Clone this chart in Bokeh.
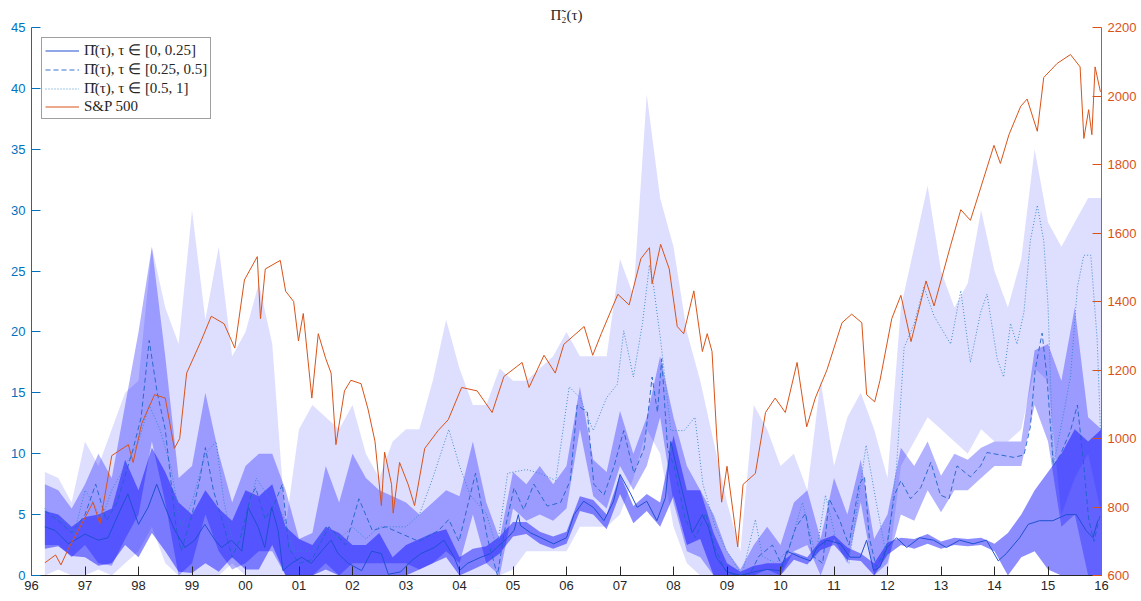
from bokeh.plotting import figure
from bokeh.models import Range1d, LinearAxis, FixedTicker, Legend, LegendItem
from bokeh.embed import file_html
from bokeh.resources import INLINE

# ---------------- data ----------------
year_ticks = list(range(1996, 2017))
year_labels = ["96", "97", "98", "99", "00", "01", "02", "03", "04", "05", "06",
               "07", "08", "09", "10", "11", "12", "13", "14", "15", "16"]
left_ticks = [0, 5, 10, 15, 20, 25, 30, 35, 40, 45]
right_ticks = [600, 800, 1000, 1200, 1400, 1600, 1800, 2000, 2200]

# quarterly grid for the confidence bands
band_t = [1996.25 + 0.25 * i for i in range(80)]

dark_lo = [2.2, 2.4, 1.6, 1.5, 0.8, 1.0, 2.5, 1.5, 3.5, 2.0, 0.3, 0.2, 1.0, 0.3, 1.5, 0.5,
           0.5, 2.5, 0.0, 0.0, 0.0, 0.5, 0.0, 0.0, 0.0, 0.0, 0.0, 0.0, 0.5, 1.0, 1.5, 0.0,
           0.5, 1.0, 1.8, 3.2, 3.4, 2.6, 2.2, 2.6, 5.3, 5.0, 3.8, 6.7, 4.3, 5.3, 4.0, 6.5,
           2.5, 3.0, 0.0, 0.0, 0.0, 0.0, 0.0, 0.0, 1.3, 0.9, 2.1, 2.5, 1.3, 1.2, 0.0, 1.7,
           2.5, 2.2, 2.6, 2.2, 2.5, 2.4, 2.5, 2.0, 0.0, 1.5, 2.0, 0.5, 0.0, 0.0, 0.0, 0.0]
dark_hi = [5.3, 5.0, 4.0, 4.8, 5.0, 5.5, 9.5, 7.0, 10.5, 8.5, 6.0, 5.0, 7.0, 5.5, 4.5, 7.0,
           6.5, 7.5, 4.0, 3.0, 2.5, 4.0, 3.5, 2.5, 2.5, 3.5, 1.5, 2.5, 3.0, 3.5, 3.8, 1.5,
           2.2, 2.4, 3.2, 4.4, 4.4, 3.6, 3.2, 3.6, 6.5, 6.2, 5.0, 8.3, 5.7, 6.7, 6.0, 11.5,
           7.0, 7.0, 3.5, 1.0, 0.3, 0.8, 1.0, 1.0, 1.9, 1.5, 2.9, 3.3, 2.3, 1.8, 1.0, 2.7,
           3.1, 3.0, 3.4, 2.8, 3.1, 3.0, 3.1, 2.6, 3.5, 5.0, 7.0, 8.5, 10.0, 12.0, 11.0, 12.0]

mid_lo = [2.5, 2.5, 1.5, 2.5, 1.0, 0.8, 3.0, 5.0, 11.0, 6.0, 0.0, 1.0, 5.0, 2.0, 0.5, 1.0,
          2.0, 2.0, 0.0, 0.0, 0.0, 1.0, 0.0, 1.0, 1.0, 1.0, 1.0, 1.0, 0.5, 1.0, 2.0, 1.0,
          5.0, 1.0, 0.0, 5.5, 4.5, 5.0, 4.5, 5.5, 12.0, 6.5, 5.5, 9.0, 7.0, 9.0, 13.0, 6.0,
          2.0, 1.5, 0.0, 0.0, 0.0, 0.0, 0.5, 0.0, 2.0, 2.5, 0.0, 3.0, 1.0, 6.0, 0.0, 1.0,
          5.0, 4.5, 7.0, 5.2, 7.0, 7.0, 8.0, 9.0, 9.0, 9.0, 14.0, 11.0, 4.0, 5.0, 0.0, 0.0]
mid_hi = [7.5, 7.0, 5.5, 7.5, 10.0, 8.0, 14.0, 20.0, 27.0, 18.0, 8.0, 9.0, 15.0, 10.0, 6.0, 9.0,
          10.0, 10.0, 7.0, 3.0, 3.5, 9.0, 6.0, 10.0, 8.0, 7.0, 6.5, 6.0, 5.0, 6.0, 7.0, 6.5,
          11.0, 6.0, 3.0, 8.5, 7.5, 9.0, 7.5, 9.0, 15.5, 9.5, 8.5, 13.5, 10.0, 13.0, 18.0, 13.0,
          9.0, 7.0, 5.0, 2.0, 0.5, 2.5, 4.0, 2.5, 6.0, 7.0, 3.0, 8.0, 5.0, 9.5, 3.0, 5.0,
          10.5, 9.0, 11.0, 8.2, 10.0, 9.5, 10.5, 11.0, 11.0, 11.0, 18.5, 19.0, 16.0, 22.0, 13.0, 12.0]

light_lo = [0.0, 0.5, 0.0, 0.0, 0.5, 0.0, 1.0, 2.0, 4.0, 1.0, 0.0, 0.0, 0.0, 0.0, 1.0, 0.0,
            0.0, 0.0, 0.0, 0.0, 0.0, 0.0, 0.0, 0.0, 0.0, 0.0, 0.0, 0.0, 0.0, 0.0, 0.0, 0.0,
            0.0, 0.0, 0.0, 0.5, 2.0, 2.0, 2.0, 2.0, 4.0, 4.0, 4.0, 5.0, 8.0, 12.0, 10.0, 4.0,
            1.0, 0.0, 0.0, 0.0, 0.0, 0.0, 0.0, 0.0, 0.0, 0.0, 0.0, 0.0, 0.0, 0.0, 0.0, 0.0,
            9.0, 11.0, 13.0, 12.0, 11.0, 10.0, 12.0, 11.0, 11.0, 12.0, 17.0, 16.0, 5.0, 8.0, 10.0, 5.0]
light_hi = [8.5, 8.0, 6.0, 11.0, 9.0, 12.0, 15.0, 16.0, 27.0, 22.0, 19.0, 30.0, 21.0, 27.0, 18.0, 20.0,
            24.0, 19.0, 4.0, 12.0, 14.0, 13.0, 12.0, 14.0, 10.0, 8.0, 11.0, 12.0, 12.0, 16.0, 21.0, 17.0,
            14.0, 14.0, 17.0, 16.0, 16.0, 17.0, 18.0, 20.0, 18.0, 18.0, 18.0, 26.0, 23.0, 39.5, 31.0, 27.0,
            20.0, 16.0, 11.0, 6.0, 2.0, 14.0, 12.0, 9.0, 10.0, 7.0, 16.0, 9.0, 13.0, 15.0, 12.0, 8.0,
            22.0, 27.0, 32.0, 25.0, 22.0, 24.0, 30.0, 25.0, 22.0, 26.0, 35.0, 29.0, 27.0, 29.0, 31.0, 31.0]

# Pi-hat, tau in [0, 0.25]  (solid)
s1_t = [1996.25, 1996.44, 1996.69, 1997.0, 1997.25, 1997.43, 1997.62, 1997.8, 1998.0, 1998.18,
        1998.34, 1998.5, 1998.68, 1998.87, 1999.05, 1999.24, 1999.43, 1999.55, 1999.74, 1999.93,
        2000.05, 2000.24, 2000.36, 2000.49, 2000.61, 2000.7, 2000.86, 2001.05, 2001.23, 2001.42,
        2001.6, 2001.73, 2001.92, 2002.17, 2002.36, 2002.54, 2002.67, 2002.9, 2003.1, 2003.28,
        2003.53, 2003.71, 2003.9, 2004.0, 2004.15, 2004.4, 2004.58, 2004.77, 2004.9, 2005.02,
        2005.1, 2005.14, 2005.33, 2005.52, 2005.76, 2006.0, 2006.14, 2006.32, 2006.5, 2006.7,
        2006.88, 2007.0, 2007.2, 2007.32, 2007.5, 2007.69, 2007.85, 2007.95, 2008.05, 2008.2,
        2008.35, 2008.54, 2008.65, 2008.8, 2009.0, 2009.25, 2009.5, 2009.75, 2010.0, 2010.12,
        2010.37, 2010.56, 2010.68, 2010.87, 2011.12, 2011.3, 2011.49, 2011.61, 2011.74, 2011.86,
        2011.99, 2012.17, 2012.36, 2012.6, 2012.86, 2013.1, 2013.35, 2013.6, 2013.85, 2014.07,
        2014.22, 2014.47, 2014.63, 2014.84, 2015.09, 2015.34, 2015.53, 2015.71, 2015.84, 2015.93]
s1_v = [4.0, 3.7, 2.6, 3.4, 2.9, 3.1, 5.0, 6.7, 4.2, 5.6,
        7.5, 5.6, 3.7, 2.3, 2.9, 4.2, 2.9, 2.3, 2.9, 2.0,
        5.6, 3.95, 2.3, 5.6, 3.7, 0.4, 1.0, 1.5, 1.0, 2.0,
        2.9, 1.8, 1.0, 0.4, 2.0, 1.8, 0.1, 0.3, 1.2, 1.8,
        2.3, 2.9, 1.5, 0.4, 1.0, 1.5, 1.8, 2.6, 3.1, 3.7,
        5.0, 4.1, 3.5, 3.1, 2.6, 3.1, 5.0, 6.1, 5.6, 4.5,
        6.1, 8.3, 6.7, 5.6, 6.1, 4.5, 6.4, 11.0, 9.0, 6.3,
        3.5, 5.0, 4.0, 1.5, 0.3, 0.0, 0.3, 0.5, 0.4, 2.0,
        1.5, 1.2, 2.3, 2.9, 2.6, 1.5, 1.5, 2.9, 0.4, 0.7,
        2.3, 3.1, 2.3, 3.1, 2.9, 2.3, 2.9, 2.6, 2.9, 1.2,
        1.8, 3.1, 4.2, 4.5, 4.5, 5.0, 5.0, 3.7, 3.1, 4.5]

# Pi-hat, tau in [0.25, 0.5]  (dashed)
s2_t = [1996.25, 1996.5, 1996.75, 1997.0, 1997.2, 1997.4, 1997.6, 1997.9, 1998.05, 1998.2,
        1998.35, 1998.5, 1998.6, 1998.7, 1998.8, 1999.0, 1999.15, 1999.25, 1999.4, 1999.6,
        1999.75, 1999.9, 2000.1, 2000.19, 2000.37, 2000.55, 2000.69, 2000.81, 2001.0, 2001.24,
        2001.56, 2001.87, 2002.12, 2002.37, 2002.62, 2002.93, 2003.24, 2003.61, 2003.8, 2003.99,
        2004.3, 2004.52, 2004.71, 2004.83, 2005.02, 2005.2, 2005.39, 2005.64, 2005.89, 2006.07,
        2006.2, 2006.39, 2006.51, 2006.7, 2006.89, 2007.07, 2007.26, 2007.45, 2007.6, 2007.7,
        2007.78, 2007.89, 2008.01, 2008.22, 2008.41, 2008.6, 2008.78, 2008.97, 2009.16, 2009.41,
        2009.6, 2009.85, 2010.04, 2010.29, 2010.47, 2010.6, 2010.79, 2010.91, 2011.1, 2011.28,
        2011.47, 2011.57, 2011.66, 2011.79, 2011.98, 2012.13, 2012.25, 2012.43, 2012.62, 2012.81,
        2012.99, 2013.15, 2013.3, 2013.55, 2013.74, 2013.86, 2014.11, 2014.36, 2014.55, 2014.67,
        2014.76, 2014.89, 2014.98, 2015.1, 2015.23, 2015.42, 2015.55, 2015.67, 2015.76, 2015.86,
        2015.98]
s2_v = [5.3, 4.5, 3.5, 5.0, 7.5, 4.5, 6.0, 10.4, 13.0, 19.3,
        15.0, 12.0, 8.0, 4.0, 2.0, 5.0, 8.0, 10.5, 7.0, 4.0,
        1.5, 3.0, 6.5, 7.2, 4.6, 6.0, 7.5, 2.2, 1.0, 1.3,
        4.0, 2.5, 6.3, 3.7, 4.0, 3.4, 2.8, 3.7, 4.6, 2.8,
        8.4, 3.1, 0.0, 3.4, 7.2, 5.4, 7.5, 5.7, 6.0, 7.8,
        14.0, 13.4, 7.5, 6.6, 9.0, 11.9, 8.4, 10.4, 16.3, 13.4,
        17.8, 10.4, 9.0, 4.6, 3.1, 5.1, 2.2, 0.4, 0.0, 0.0,
        1.6, 2.5, 0.7, 4.0, 5.1, 1.6, 1.0, 6.3, 4.6, 2.5,
        7.5, 8.1, 3.1, 0.7, 2.2, 6.6, 7.8, 6.3, 7.2, 9.3,
        6.6, 6.3, 9.0, 8.1, 9.0, 10.1, 9.9, 9.7, 9.9, 12.2,
        16.9, 19.9, 16.3, 9.0, 9.9, 11.9, 14.0, 9.0, 4.6, 2.8,
        5.1]

# Pi-hat, tau in [0.5, 1]  (dotted)
s3_t = [1996.25, 1996.4, 1996.6, 1996.8, 1997.0, 1997.15, 1997.3, 1997.5, 1997.75, 1998.0,
        1998.2, 1998.4, 1998.6, 1998.8, 1999.0, 1999.25, 1999.45, 1999.6, 1999.8, 2000.0,
        2000.2, 2000.5, 2000.7, 2000.9, 2001.25, 2001.5, 2001.75, 2002.0, 2002.25, 2002.5,
        2002.75, 2003.0, 2003.25, 2003.5, 2003.8, 2004.0, 2004.2, 2004.5, 2004.7, 2004.9,
        2005.25, 2005.5, 2005.8, 2006.05, 2006.25, 2006.5, 2006.75, 2006.95, 2007.07, 2007.25,
        2007.42, 2007.55, 2007.62, 2007.76, 2007.95, 2008.2, 2008.4, 2008.55, 2008.78, 2008.97,
        2009.28, 2009.53, 2009.66, 2009.91, 2010.16, 2010.41, 2010.66, 2010.84, 2011.03, 2011.28,
        2011.6, 2011.79, 2011.98, 2012.17, 2012.31, 2012.5, 2012.68, 2012.87, 2013.06, 2013.18,
        2013.37, 2013.55, 2013.74, 2013.86, 2014.05, 2014.17, 2014.3, 2014.42, 2014.55, 2014.67,
        2014.8, 2014.92, 2015.0, 2015.1, 2015.23, 2015.42, 2015.55, 2015.67, 2015.8, 2015.92,
        2015.98]
s3_v = [5.5, 4.8, 4.5, 3.5, 7.0, 6.0, 4.5, 7.0, 9.0, 11.0,
        14.0, 12.0, 9.0, 4.0, 6.0, 10.0, 11.0, 6.0, 2.0, 4.0,
        8.0, 6.0, 5.0, 2.0, 2.0, 4.0, 3.0, 4.0, 3.0, 4.0,
        4.0, 4.0, 5.0, 8.0, 12.0, 9.0, 6.6, 5.1, 2.2, 8.4,
        8.7, 8.4, 7.8, 15.5, 14.6, 11.9, 14.6, 15.7, 20.1, 16.3,
        20.7, 25.5, 24.0, 19.3, 11.9, 11.9, 13.0, 7.5, 4.0, 2.2,
        0.0, 4.6, 1.6, 1.0, 2.2, 6.0, 1.6, 6.6, 3.1, 1.0,
        10.7, 6.0, 1.6, 9.0, 18.7, 20.7, 23.7, 21.3, 19.9, 19.0,
        23.4, 17.5, 21.6, 23.1, 17.8, 16.3, 20.7, 19.0, 21.6, 27.5,
        30.4, 27.5, 22.2, 9.0, 11.9, 16.3, 23.7, 26.3, 26.3, 19.3,
        11.9]

# S&P 500 (right axis)
sp_t = [1996.25, 1996.45, 1996.55, 1996.69, 1996.94, 1997.15, 1997.28, 1997.5, 1997.81, 1997.9,
        1998.06, 1998.3, 1998.5, 1998.67, 1998.77, 1998.9, 1999.17, 1999.36, 1999.6, 1999.8,
        1999.98, 2000.22, 2000.28, 2000.37, 2000.65, 2000.75, 2000.9, 2000.99, 2001.08, 2001.24,
        2001.36, 2001.5, 2001.6, 2001.69, 2001.85, 2001.97, 2002.16, 2002.29, 2002.42, 2002.54,
        2002.6, 2002.73, 2002.76, 2002.88, 2003.04, 2003.16, 2003.35, 2003.6, 2003.79, 2004.04,
        2004.33, 2004.61, 2004.83, 2005.17, 2005.3, 2005.58, 2005.79, 2005.95, 2006.33, 2006.49,
        2006.65, 2006.96, 2007.17, 2007.39, 2007.55, 2007.6, 2007.76, 2007.92, 2008.07, 2008.19,
        2008.38, 2008.54, 2008.63, 2008.72, 2008.81, 2008.9, 2009.0, 2009.2, 2009.3, 2009.53,
        2009.72, 2009.9, 2010.09, 2010.31, 2010.49, 2010.65, 2010.87, 2011.15, 2011.33, 2011.52,
        2011.61, 2011.76, 2011.86, 2012.08, 2012.25, 2012.44, 2012.72, 2012.87, 2013.18, 2013.37,
        2013.55, 2013.74, 2013.99, 2014.11, 2014.27, 2014.49, 2014.61, 2014.8, 2014.92, 2015.17,
        2015.42, 2015.6, 2015.67, 2015.76, 2015.82, 2015.88, 2015.98]
sp_v = [637, 660, 631, 678, 751, 814, 751, 950, 982, 930,
        1044, 1128, 1118, 971, 1000, 1191, 1285, 1357, 1335, 1264,
        1463, 1531, 1350, 1495, 1520, 1430, 1400, 1285, 1365, 1118,
        1306, 1233, 1191, 982, 1139, 1170, 1160, 1086, 992, 804,
        960, 866, 782, 930, 866, 804, 971, 1023, 1055, 1149,
        1139, 1076, 1181, 1222, 1149, 1243, 1191, 1275, 1327, 1243,
        1306, 1421, 1390, 1525, 1557, 1452, 1567, 1495, 1327, 1306,
        1431, 1254, 1306, 1254, 1002, 814, 919, 684, 866, 898,
        1076, 1118, 1076, 1222, 1034, 1118, 1201, 1338, 1363, 1338,
        1128, 1107, 1170, 1350, 1418, 1283, 1460, 1387, 1564, 1668,
        1637, 1731, 1856, 1803, 1887, 1970, 1991, 1897, 2054, 2095,
        2121, 2085, 1876, 1960, 1887, 2085, 2012]

labels = ["\u03a0\u0302(\u03c4), \u03c4 \u2208 [0, 0.25]",
          "\u03a0\u0302(\u03c4), \u03c4 \u2208 [0.25, 0.5]",
          "\u03a0\u0302(\u03c4), \u03c4 \u2208 [0.5, 1]",
          "S&P 500"]
title_text = "\u03a0\u0303\u2082(\u03c4)"

# ---------------- figure ----------------
AX = "#262626"
BLUE_AX = "#0072BD"
ORANGE = "#D95319"

p = figure(width=1141, height=601, output_backend="svg", toolbar_location=None,
           x_range=Range1d(1996, 2016), y_range=Range1d(0, 45),
           min_border_left=31, min_border_right=40, min_border_bottom=26, min_border_top=27)
p.outline_line_color = None
p.xgrid.visible = False
p.ygrid.visible = False
p.background_fill_color = "white"

p.title.text = title_text
p.title.align = "center"
p.title.text_font = "Liberation Serif"
p.title.text_font_size = "15px"
p.title.text_font_style = "normal"
p.title.text_color = AX
p.title.standoff = 9

# bands
p.varea(x=band_t, y1=light_lo, y2=light_hi, fill_color="#0000ff", fill_alpha=0.13)
p.varea(x=band_t, y1=mid_lo, y2=mid_hi, fill_color="#0000ff", fill_alpha=0.30)
p.varea(x=band_t, y1=dark_lo, y2=dark_hi, fill_color="#0000ff", fill_alpha=0.45)

# lines
r3 = p.line(s3_t, s3_v, line_color="#2f86c8", line_width=0.9, line_dash="1 2")
r2 = p.line(s2_t, s2_v, line_color="#1f62c8", line_width=0.9, line_dash="5 3")
r1 = p.line(s1_t, s1_v, line_color="#2050d0", line_width=1.0)

p.extra_y_ranges = {"sp": Range1d(600, 2200)}
r4 = p.line(sp_t, sp_v, line_color=ORANGE, line_width=1.0, y_range_name="sp")

# axes
xa = p.xaxis[0]
xa.ticker = FixedTicker(ticks=year_ticks)
xa.major_label_overrides = {y: l for y, l in zip(year_ticks, year_labels)}
for ax, col in ((xa, AX), (p.yaxis[0], BLUE_AX)):
    ax.axis_line_color = col
    ax.major_tick_line_color = col
    ax.major_label_text_color = col
    ax.minor_tick_line_color = None
    ax.major_tick_in = 9
    ax.major_tick_out = 0
    ax.major_label_text_font = "Liberation Sans"
    ax.major_label_text_font_size = "13px"
xa.major_label_standoff = 5
p.yaxis[0].major_label_standoff = 6
p.yaxis[0].ticker = FixedTicker(ticks=left_ticks)

ra = LinearAxis(y_range_name="sp", ticker=FixedTicker(ticks=right_ticks))
ra.axis_line_color = ORANGE
ra.major_tick_line_color = ORANGE
ra.major_label_text_color = ORANGE
ra.minor_tick_line_color = None
ra.major_tick_in = 9
ra.major_tick_out = 0
ra.major_label_text_font = "Liberation Sans"
ra.major_label_text_font_size = "13px"
ra.major_label_standoff = 6
p.add_layout(ra, "right")

# legend
legend = Legend(items=[LegendItem(label=labels[0], renderers=[r1]),
                       LegendItem(label=labels[1], renderers=[r2]),
                       LegendItem(label=labels[2], renderers=[r3]),
                       LegendItem(label=labels[3], renderers=[r4])],
                location="top_left")
legend.margin = 10
legend.padding = 3
legend.spacing = 1
legend.label_height = 17
legend.glyph_height = 17
legend.glyph_width = 34
legend.label_standoff = 5
legend.label_text_font = "Liberation Serif"
legend.label_text_font_size = "15px"
legend.label_text_color = AX
legend.border_line_color = "#404040"
legend.border_line_width = 1
legend.background_fill_color = "white"
legend.background_fill_alpha = 1.0
p.add_layout(legend)

open("out.html", "w").write(file_html(p, INLINE))
